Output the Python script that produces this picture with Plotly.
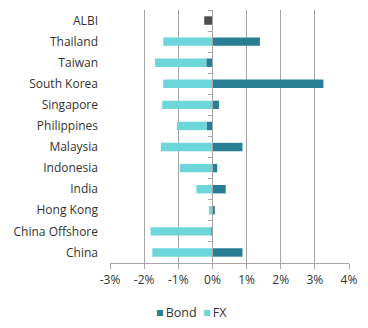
import plotly.graph_objects as go

categories = ["ALBI", "Thailand", "Taiwan", "South Korea", "Singapore", "Philippines",
              "Malaysia", "Indonesia", "India", "Hong Kong", "China Offshore", "China"]
bond = [None, 1.39, -0.18, 3.25, 0.19, -0.17, 0.88, 0.14, 0.39, 0.07, -0.03, 0.88]
fx = [None, -1.44, -1.50, -1.44, -1.47, -0.87, -1.51, -0.95, -0.47, -0.10, -1.78, -1.76]
albi = [-0.24] + [None] * 11
x_ticks = [-3, -2, -1, 0, 1, 2, 3, 4]
legend_names = ["Bond", "FX"]

BOND_C = "#287f93"
FX_C = "#6cd6da"
ALBI_C = "#4d4d4d"
GRID = "#a6a6a6"
TXT = "#333333"
FONT = "Open Sans"

fig = go.Figure()
fig.add_trace(go.Bar(y=categories, x=bond, orientation="h", name=legend_names[0],
                     marker=dict(color=BOND_C, line=dict(width=0)), width=0.4, showlegend=False))
fig.add_trace(go.Bar(y=categories, x=fx, orientation="h", name=legend_names[1],
                     marker=dict(color=FX_C, line=dict(width=0)), width=0.4, showlegend=False))
fig.add_trace(go.Bar(y=categories, x=albi, orientation="h", name="ALBI", showlegend=False,
                     marker=dict(color=ALBI_C, line=dict(width=0)), width=0.4))
fig.add_trace(go.Scatter(y=categories, x=[0] * len(categories), yaxis="y2", mode="markers",
                         marker=dict(opacity=0), showlegend=False, hoverinfo="skip"))

xmin, xmax = -3, 4
fig.update_layout(
    barmode="relative",
    width=368, height=328,
    margin=dict(l=110, r=19, t=10, b=65, autoexpand=False),
    paper_bgcolor="white", plot_bgcolor="white",
    font=dict(family=FONT, size=12, color=TXT),
    showlegend=False,
    xaxis=dict(range=[xmin, xmax], tickvals=x_ticks, ticktext=[f"{v}%" for v in x_ticks],
               showgrid=True, gridcolor=GRID, gridwidth=1, zeroline=False,
               showline=True, linecolor=GRID, ticks="outside", ticklen=5, tickcolor=GRID,
               tickfont=dict(size=12, color=TXT), ticklabelstandoff=1),
    yaxis=dict(type="category", categoryorder="array", categoryarray=categories,
               range=[len(categories) - 0.5, -0.5], showgrid=False, showline=False,
               ticks="", ticklabelstandoff=11, tickfont=dict(size=12, color=TXT)),
    yaxis2=dict(type="category", categoryorder="array", categoryarray=categories,
                overlaying="y", matches="y", anchor="free",
                position=(0 - xmin) / (xmax - xmin), side="left",
                showticklabels=False, showgrid=False, showline=True, linecolor=GRID,
                ticks="outside", ticklen=4, tickcolor=GRID, tickson="boundaries"),
)

legend_text = (f"<span style='color:{BOND_C}'>■</span>&#8201;{legend_names[0]}&nbsp;&nbsp;"
               f"<span style='color:{FX_C}'>■</span>&#8201;{legend_names[1]}")
fig.add_annotation(text=legend_text, xref="paper", yref="paper", x=0.343, y=-0.195,
                   xanchor="center", yanchor="middle", showarrow=False,
                   font=dict(size=12.5, color=TXT, family=FONT))
fig.write_html("out.html")
